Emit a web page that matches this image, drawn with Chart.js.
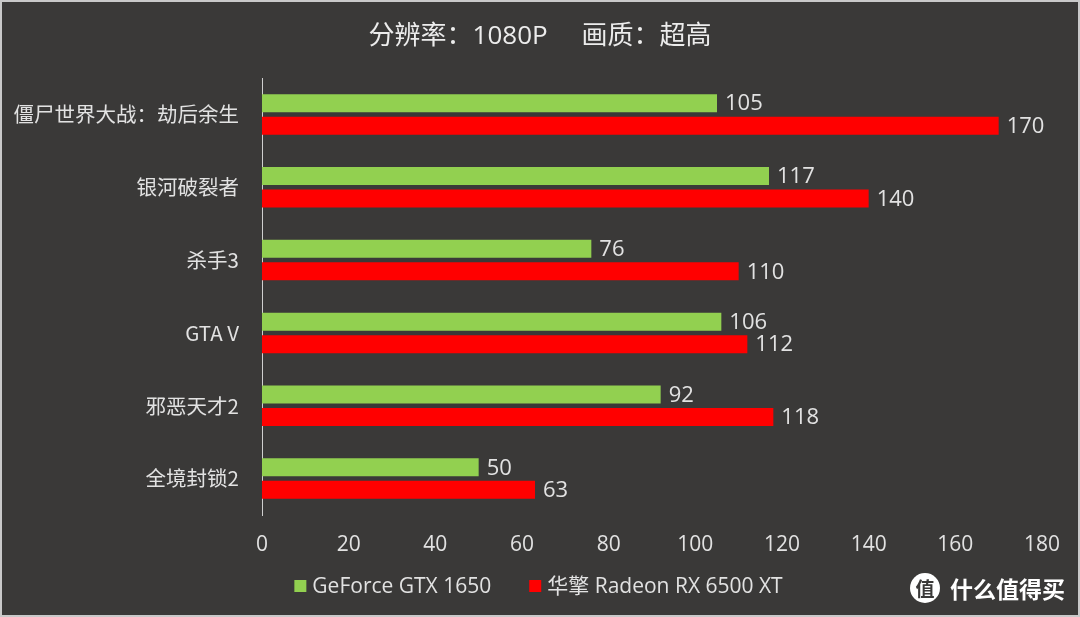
<!DOCTYPE html>
<html><head><meta charset="utf-8">
<script src="https://cdn.jsdelivr.net/npm/chart.js@4/dist/chart.umd.min.js"></script>
<style>
html,body{margin:0;padding:0;background:#3a3938;}
canvas{display:block;}
</style></head><body>
<canvas id="c" width="1080" height="617"></canvas>
<script>
const categories = ["僵尸世界大战：劫后余生","银河破裂者","杀手3","GTA V","邪恶天才2","全境封锁2"];
const seriesNames = ["GeForce GTX 1650","华擎 Radeon RX 6500 XT"];
const gtx1650 = [105,117,76,106,92,50];
const rx6500xt = [170,140,110,112,118,63];
const xTicks = [0,20,40,60,80,100,120,140,160,180];
const titleText = "分辨率：1080P     画质：超高";
const FONT = '"Open Sans","Noto Sans CJK SC",sans-serif';
const CJK = '"Noto Sans CJK SC","Open Sans",sans-serif';
const TXT = '#e2e2e2';

const bgPlugin = {
  id:'bg',
  beforeDraw(chart){
    const {ctx,width,height}=chart;
    ctx.save();ctx.fillStyle='#3a3938';ctx.fillRect(0,0,width,height);ctx.restore();
  },
  afterDraw(chart){
    const {ctx,width,height}=chart;
    ctx.save();
    ctx.strokeStyle='#c9c9c9';ctx.lineWidth=2;ctx.strokeRect(1,1,width-2,height-2);
    // title
    ctx.fillStyle='#ececec';ctx.font='26px '+FONT;ctx.textAlign='center';ctx.textBaseline='middle';
    ctx.fillText(titleText,540,37);
    // legend (drawn from dataset labels/colors)
    ctx.font='21px '+FONT;ctx.textBaseline='middle';ctx.textAlign='left';
    const ds = chart.data.datasets;
    const box=12, gap=6, between=38, ly=586;
    let total=0;
    ds.forEach((d,i)=>{total+=box+gap+ctx.measureText(d.label).width+(i<ds.length-1?between:0);});
    let x = 538.5-total/2;
    ds.forEach((d)=>{
      ctx.fillStyle=d.backgroundColor;ctx.fillRect(x,ly-6,box,box);
      ctx.fillStyle=TXT;ctx.fillText(d.label,x+box+gap,ly+1);
      x+=box+gap+ctx.measureText(d.label).width+between;
    });
    // watermark
    ctx.fillStyle='#ffffff';ctx.beginPath();ctx.arc(925,588,15,0,Math.PI*2);ctx.fill();
    ctx.fillStyle='#3a3938';ctx.font='bold 19px '+CJK;ctx.textAlign='center';
    ctx.fillText('值',925,589);
    ctx.fillStyle='#ffffff';ctx.font='bold 23px '+CJK;ctx.textAlign='left';
    ctx.fillText('什么值得买',950,589);
    ctx.restore();
  }
};
const labelPlugin = {
  id:'vals',
  afterDatasetsDraw(chart){
    const {ctx}=chart;
    ctx.save();
    ctx.font='22px '+FONT;ctx.fillStyle=TXT;ctx.textAlign='left';ctx.textBaseline='middle';
    chart.data.datasets.forEach((ds,i)=>{
      chart.getDatasetMeta(i).data.forEach((bar,j)=>{
        ctx.fillText(String(ds.data[j]),bar.x+8,bar.y+1);
      });
    });
    ctx.restore();
  }
};

new Chart(document.getElementById('c'),{
  type:'bar',
  data:{labels:categories,datasets:[
    {label:seriesNames[0],data:gtx1650,backgroundColor:'#92d050'},
    {label:seriesNames[1],data:rx6500xt,backgroundColor:'#ff0000'}
  ]},
  options:{
    indexAxis:'y',responsive:false,animation:false,
    categoryPercentage:0.617,barPercentage:0.8,
    layout:{padding:{left:0,right:38,top:78,bottom:62}},
    plugins:{
      title:{display:false},
      legend:{display:false},
      tooltip:{enabled:false}
    },
    scales:{
      x:{min:0,max:180,afterBuildTicks(s){s.ticks=xTicks.map(v=>({value:v}));},
         ticks:{color:TXT,font:{family:FONT,size:21},padding:17,maxRotation:0},
         grid:{display:false,drawTicks:false},border:{display:false},
         afterFit(s){s.height=40;}},
      y:{ticks:{color:TXT,font:{family:CJK,size:20.5},padding:23},
         grid:{display:false,drawTicks:false},border:{display:true,color:'#cfcfcf',width:1},
         afterFit(s){s.width=262;}}
    }
  },
  plugins:[bgPlugin,labelPlugin]
});
</script>
</body></html>
